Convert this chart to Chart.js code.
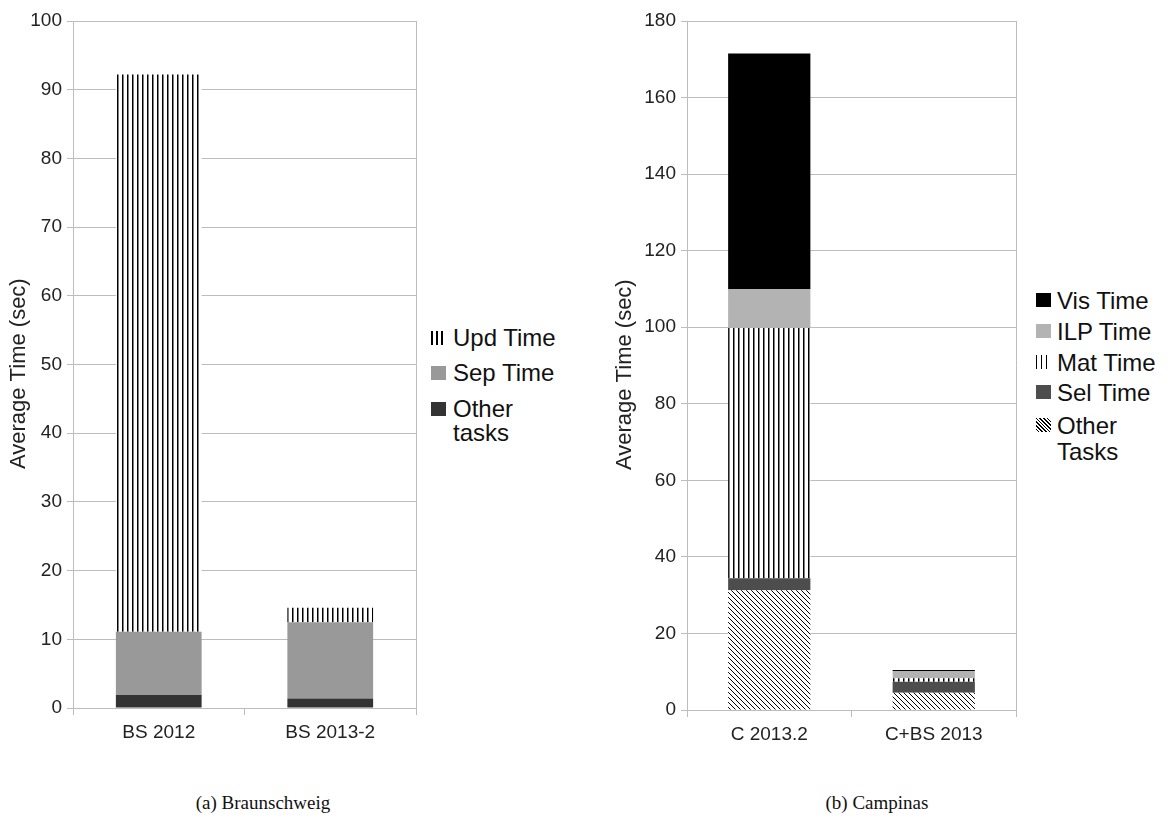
<!DOCTYPE html>
<html>
<head>
<meta charset="utf-8">
<script src="https://cdn.jsdelivr.net/npm/chart.js@4"></script>
<style>
  body { margin: 0; background: #fff; width: 1175px; height: 819px; position: relative; overflow: hidden; font-family: "Liberation Sans", Arial, sans-serif; color: #111; }
  .box { position: absolute; top: 0; }
  .lg { position: absolute; font-size: 24px; line-height: 24px; white-space: nowrap; }
  .sw { position: absolute; width: 15px; height: 14px; }
  .cap { position: absolute; top: 792px; font-family: "Liberation Serif", "DejaVu Serif", serif; font-size: 19px; transform: translateX(-50%); white-space: nowrap; }
</style>
</head>
<body>
<div class="box" style="left:0px;width:430px;height:745px"><canvas id="bs"></canvas></div>
<div class="box" style="left:606px;width:430px;height:745px"><canvas id="camp"></canvas></div>
<div id="legends"></div>
<div class="cap" style="left:263px">(a) Braunschweig</div>
<div class="cap" style="left:877px">(b) Campinas</div>
<script>
// left chart (Braunschweig)
const bsLabels = ['BS 2012', 'BS 2013-2']
const bsOther = [1.9, 1.4]
const bsSep = [9.2, 11.1]
const bsUpd = [81.1, 2.1]

// right chart (Campinas)
const cLabels = ['C 2013.2', 'C+BS 2013']
const cOther = [31.3, 4.5]
const cSel = [3.1, 2.9]
const cMat = [65.4, 0.9]
const cIlp = [10.2, 1.9]
const cVis = [61.5, 0.25]

const gridColor = '#bdbdbd'

function vlines() {
  const c = document.createElement('canvas')
  c.width = 5; c.height = 5
  const g = c.getContext('2d')
  g.fillStyle = '#fff'
  g.fillRect(0, 0, 5, 5)
  g.fillStyle = '#000'
  g.fillRect(2, 0, 1.5, 5)
  return g.createPattern(c, 'repeat')
}

function hatch() {
  const c = document.createElement('canvas')
  c.width = 5; c.height = 5
  const g = c.getContext('2d')
  g.fillStyle = '#fff'
  g.fillRect(0, 0, 5, 5)
  g.strokeStyle = '#000'
  g.lineWidth = 1
  for (const off of [-5, 0, 5]) {
    g.beginPath()
    g.moveTo(off, 0)
    g.lineTo(off + 5, 5)
    g.stroke()
  }
  return g.createPattern(c, 'repeat')
}

const rightBorder = {
  id: 'rightBorder',
  afterDraw(chart) {
    const a = chart.chartArea, ctx = chart.ctx
    ctx.save()
    ctx.strokeStyle = gridColor
    ctx.lineWidth = 1
    ctx.beginPath()
    ctx.moveTo(Math.round(a.right) + 0.5, a.top)
    ctx.lineTo(Math.round(a.right) + 0.5, a.bottom)
    ctx.stroke()
    ctx.restore()
  }
}

function opts(max, step, yWidth, xHeight, pad) {
  return {
    responsive: true,
    maintainAspectRatio: false,
    animation: false,
    layout: { padding: pad },
    plugins: { legend: { display: false }, tooltip: { enabled: false } },
    datasets: { bar: { categoryPercentage: 1, barPercentage: 0.5, borderWidth: 0 } },
    scales: {
      x: {
        stacked: true,
        grid: { drawOnChartArea: false, offset: true, tickLength: 7, color: gridColor },
        border: { color: gridColor },
        ticks: { color: '#222', font: { size: 19, family: 'Liberation Sans' }, padding: 6 },
        afterFit(s) { s.height = xHeight }
      },
      y: {
        stacked: true,
        min: 0, max: max,
        grid: { color: gridColor, tickLength: 6 },
        border: { color: gridColor },
        ticks: { stepSize: step, color: '#222', font: { size: 19, family: 'Liberation Sans' }, padding: 5 },
        title: { display: true, text: 'Average Time (sec)   ', color: '#222', font: { size: 22, family: 'Liberation Sans' }, padding: { top: 6, bottom: 0 } },
        afterFit(s) { s.width = yWidth }
      }
    }
  }
}

new Chart('bs', {
  type: 'bar',
  data: {
    labels: bsLabels,
    datasets: [
      { label: 'Other tasks', data: bsOther, backgroundColor: '#333333' },
      { label: 'Sep Time', data: bsSep, backgroundColor: '#999999' },
      { label: 'Upd Time', data: bsUpd, backgroundColor: vlines() }
    ]
  },
  options: opts(100, 10, 73, 37, { top: 21, right: 14, left: 0, bottom: 0 }),
  plugins: [rightBorder]
})

new Chart('camp', {
  type: 'bar',
  data: {
    labels: cLabels,
    datasets: [
      { label: 'Other Tasks', data: cOther, backgroundColor: hatch() },
      { label: 'Sel Time', data: cSel, backgroundColor: '#4d4d4d' },
      { label: 'Mat Time', data: cMat, backgroundColor: vlines() },
      { label: 'ILP Time', data: cIlp, backgroundColor: '#b3b3b3' },
      { label: 'Vis Time', data: cVis, backgroundColor: '#000000' }
    ]
  },
  options: opts(180, 20, 81, 35, { top: 21, right: 20, left: 0, bottom: 0 }),
  plugins: [rightBorder]
})

// legends as html, swatches match the bar fills
const vlCss = 'repeating-linear-gradient(90deg, #000 0 1.5px, #fff 1.5px 5px)'
const hatchCss = 'repeating-linear-gradient(45deg, #fff 0 1.6px, #000 1.6px 2.6px)'
const bsLegend = [
  ['Upd Time', vlCss, 338],
  ['Sep Time', '#999999', 373],
  ['Other<br>tasks', '#333333', 409]
]
const cLegend = [
  ['Vis Time', '#000000', 300],
  ['ILP Time', '#b3b3b3', 331],
  ['Mat Time', vlCss, 362],
  ['Sel Time', '#4d4d4d', 392],
  ['Other<br>Tasks', hatchCss, 425]
]
const legends = document.getElementById('legends')
function addLegend(items, swX, textX, lh) {
  for (const [text, bg, cy] of items) {
    legends.insertAdjacentHTML('beforeend',
      `<div class="sw" style="left:${swX}px;top:${cy - 7}px;background:${bg}"></div>` +
      `<div class="lg" style="left:${textX}px;top:${cy - 12}px;line-height:${lh}px">${text}</div>`)
  }
}
addLegend(bsLegend, 431, 453, 24)
addLegend(cLegend, 1036, 1057, 26)
</script>
</body>
</html>
